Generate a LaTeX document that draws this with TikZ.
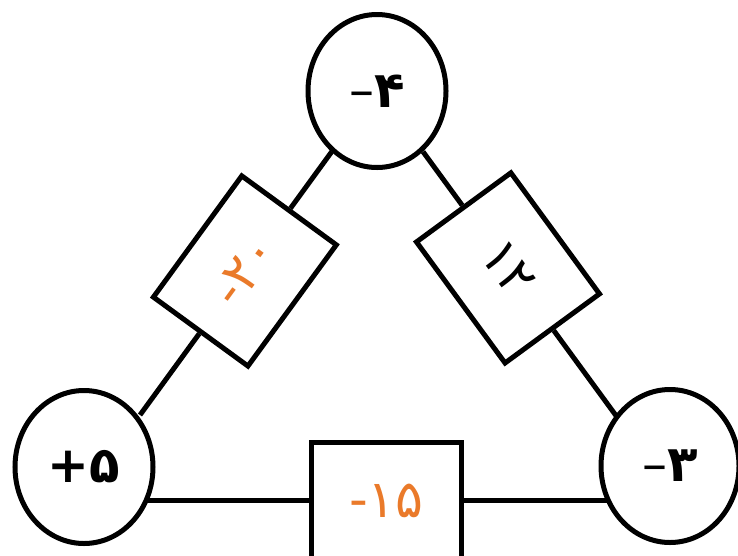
\documentclass[tikz,border=0pt]{standalone}
\usepackage{fontspec}
\usetikzlibrary{shapes.geometric,calc}
\newfontfamily\pfont{DejaVu Sans}
\definecolor{numorange}{RGB}{234,122,42}
\begin{document}
\begin{tikzpicture}[x=1pt,y=-1pt,
  circ/.style={draw, line width=5pt, ellipse, minimum width=138pt, minimum height=153pt, inner sep=0pt, fill=white},
  valbox/.style={draw, line width=5pt, rectangle, minimum width=150pt, minimum height=117pt, inner sep=0pt, fill=white},
  wire/.style={line width=5pt},
  blacknum/.style={font=\pfont\bfseries\fontsize{50}{52}\selectfont, text=black},
  orangenum/.style={font=\pfont\fontsize{52}{54}\selectfont, text=numorange},
  boxnum/.style={font=\pfont\fontsize{52}{54}\selectfont, text=black}
]
\useasboundingbox (0,0) rectangle (738,555);
\clip (0,0) rectangle (738,555);

% circles
\node[circ, blacknum] (top) at (377,91) {{\mdseries –}۴};
\node[circ, blacknum] (left) at (84,467) {+۵};
\node[circ, blacknum] (right) at (670,466) {{\mdseries –}۳};

% wire end points on the circles
\coordinate (tl) at (331.7,151.7);
\coordinate (ll) at (140,415);
\coordinate (tr) at (423,151.7);
\coordinate (rr) at (617,417);
\coordinate (lb) at (148,500.7);
\coordinate (rb) at (610,500.7);

% boxes
\node[valbox, orangenum, rotate=53.9] (lbox) at ($(ll)!0.547!(tl)$) {-۲۰};
\node[valbox, boxnum, rotate=-53.8] (rbox) at ($(tr)!0.438!(rr)$) {۱۲};
\node[valbox, orangenum] (bbox) at (386.5,500.7) {-۱۵};

% connectors
\draw[wire] (tl) -- (lbox);
\draw[wire] (lbox) -- (ll);
\draw[wire] (tr) -- (rbox);
\draw[wire] (rbox) -- (rr);
\draw[wire] (lb) -- (bbox);
\draw[wire] (bbox) -- (rb);
\end{tikzpicture}
\end{document}
